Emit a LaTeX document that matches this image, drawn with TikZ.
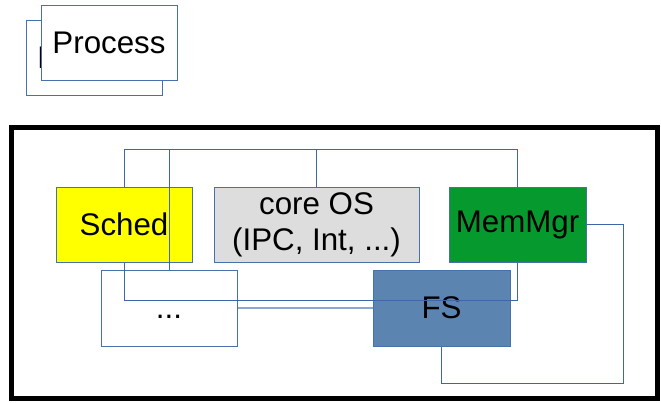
\documentclass[tikz,border=0pt]{standalone}
\usepackage{fontspec}
\setmainfont{Liberation Sans}
\definecolor{boxline}{RGB}{72,112,172}
\definecolor{conn}{RGB}{62,102,168}
\definecolor{connlight}{RGB}{140,168,208}
\definecolor{schedfill}{RGB}{255,255,0}
\definecolor{corefill}{RGB}{221,221,221}
\definecolor{memfill}{RGB}{6,154,46}
\definecolor{fsfill}{RGB}{91,132,177}
\tikzset{
  blk/.style={draw=boxline, line width=1pt, inner sep=0pt, align=center,
    font=\fontsize{31.3}{37}\selectfont, minimum height=75pt},
  wire/.style={draw=conn, line width=0.9pt},
  wirelight/.style={draw=connlight, line width=1.8pt},
}
\begin{document}
\begin{tikzpicture}[x=1pt,y=-1pt]
\useasboundingbox (0,0) rectangle (661,402);
% process stack
\node[blk, fill=white, minimum width=136pt] (procB) at (94,58) {Process};
\node[blk, fill=white, minimum width=136pt] (procF) at (109,43) {Process};
% big frame
\node[draw=black, line width=5pt, minimum width=646pt, minimum height=271pt, inner sep=0pt] (frame) at (334,262.5) {};
% components
\node[blk, fill=schedfill, minimum width=136pt] (sched) at (124,224.5) {Sched};
\node[blk, fill=corefill, minimum width=205pt] (core) at (316.5,224.5) {\raisebox{-2pt}{core OS}\\\raisebox{-1pt}{(IPC, Int, ...)}};
\node[blk, fill=memfill, minimum width=137pt] (mem) at (517.5,224.5) {MemMgr};
\node[blk, fill=white, minimum width=136pt, minimum height=76pt] (dots) at (169,308) {\vphantom{S}...};
\node[blk, fill=fsfill, minimum width=137pt, minimum height=76pt] (fs) at (441.5,308) {FS};
% helper coordinates
\coordinate (bus) at (0,149);
\coordinate (lowbus) at (0,300);
\coordinate (rc) at (623,383);
% connectors
\draw[wire] (sched.north) -- (sched.north |- bus) -| (mem.north);
\draw[wire] (core.north) -- (core.north |- bus);
\draw[wire] (dots.north) -- (dots.north |- bus);
\draw[wirelight] (dots.east) -- (fs.west);
\draw[wire] (sched.south) -- (sched.south |- lowbus) -| (mem.south);
\draw[wire] (mem.east) -| (rc) -| (fs.south);
\end{tikzpicture}
\end{document}
